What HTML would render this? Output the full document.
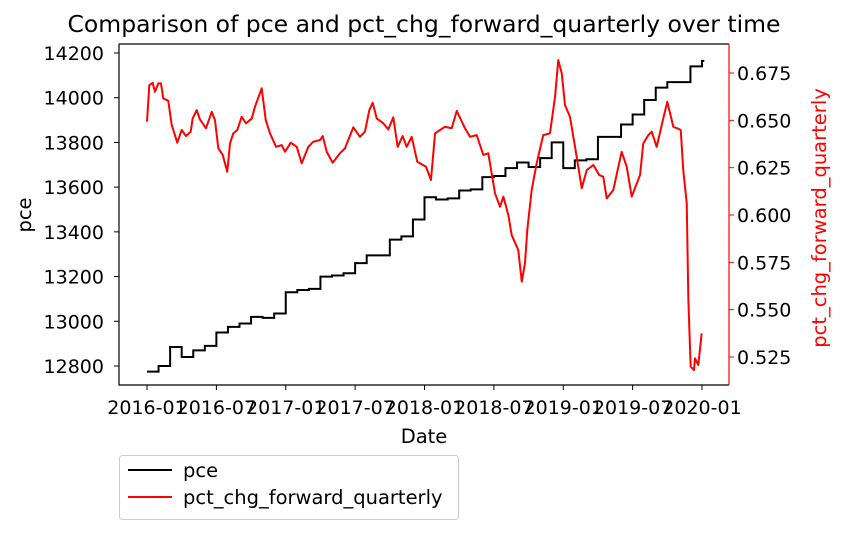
<!DOCTYPE html>
<html><head><meta charset="utf-8"><style>
body{margin:0;background:#fff;}
svg{display:block;font-family:"DejaVu Sans","Liberation Sans",sans-serif;}
</style></head><body>
<svg id="chart" width="842" height="534" xmlns="http://www.w3.org/2000/svg">
<text x="424" y="32" font-size="23.5" text-anchor="middle">Comparison of pce and pct_chg_forward_quarterly over time</text>
<g id="plot"></g>
<text x="424" y="443" font-size="19.5" text-anchor="middle">Date</text>
<text transform="translate(31,215) rotate(-90)" font-size="19.5" text-anchor="middle">pce</text>
<text transform="translate(826,218) rotate(-90)" font-size="19.5" fill="red" text-anchor="middle">pct_chg_forward_quarterly</text>
<g>
<rect x="119.5" y="455.5" width="339" height="64" rx="3" fill="#fff" stroke="#ccc"/>
<line x1="128" y1="470" x2="172" y2="470" stroke="#000" stroke-width="2"/>
<text x="183" y="477" font-size="19.5">pce</text>
<line x1="128" y1="497" x2="172" y2="497" stroke="red" stroke-width="2"/>
<text x="183" y="504" font-size="19.5">pct_chg_forward_quarterly</text>
</g>
</svg>
<script>
// months since 2016-01
const pceMonths=[0,1,2,3,4,5,6,7,8,9,10,11,12,13,14,15,16,17,18,19,20,21,22,23,24,25,26,27,28,29,30,31,32,33,34,35,36,37,38,39,40,41,42,43,44,45,46,47,48];
const pceValues=[12775,12800,12885,12840,12870,12890,12950,12975,12990,13020,13015,13035,13130,13140,13145,13200,13205,13215,13260,13295,13295,13365,13380,13455,13555,13545,13550,13585,13590,13645,13650,13685,13710,13690,13730,13800,13685,13720,13725,13825,13825,13880,13925,13990,14045,14070,14070,14140,14165];
const pctMonths=[0,0.2,0.49,0.69,0.98,1.21,1.41,1.84,2.14,2.62,3.0,3.37,3.78,3.95,4.3,4.58,5.1,5.6,5.88,6.17,6.55,6.94,7.18,7.46,7.81,8.19,8.56,9.06,9.34,9.92,10.27,10.64,11.16,11.65,11.94,12.43,12.95,13.38,13.95,14.38,14.96,15.2,15.54,16.06,16.69,17.12,17.84,18.42,18.85,19.23,19.52,19.87,20.44,20.87,21.3,21.68,22.11,22.46,22.89,23.38,24.13,24.56,24.91,25.34,25.77,26.35,26.79,27.5,27.94,28.51,29.09,29.52,30.1,30.53,30.82,31.25,31.54,32.11,32.41,32.69,32.89,33.27,33.7,34.27,34.85,35.29,35.57,35.87,36.15,36.58,37.02,37.6,38.03,38.6,39.12,39.46,39.76,40.33,41.05,41.49,41.92,42.64,42.92,43.36,43.65,44.08,44.65,45.0,45.52,45.86,46.16,46.38,46.68,46.82,47.02,47.31,47.39,47.68,47.97];
const pctValues=[0.6493,0.6686,0.6698,0.6651,0.6695,0.6695,0.6616,0.6603,0.6475,0.6382,0.6449,0.6417,0.644,0.651,0.6554,0.6505,0.6458,0.6545,0.6501,0.6352,0.6317,0.6228,0.6378,0.6431,0.6449,0.6519,0.6484,0.651,0.6572,0.6669,0.6501,0.6431,0.636,0.6369,0.6334,0.6382,0.636,0.6273,0.636,0.6387,0.6396,0.6417,0.6334,0.6276,0.6326,0.6352,0.6463,0.6413,0.644,0.6554,0.6593,0.651,0.6484,0.6452,0.6516,0.636,0.6417,0.636,0.6413,0.6281,0.6255,0.6185,0.6431,0.6449,0.6466,0.6458,0.655,0.6458,0.6413,0.6422,0.6317,0.6326,0.6114,0.6044,0.6097,0.6,0.5894,0.5815,0.5648,0.5745,0.5921,0.6132,0.6273,0.6422,0.6431,0.6624,0.6818,0.6748,0.6581,0.6519,0.636,0.6141,0.6237,0.6264,0.6211,0.6202,0.6088,0.6132,0.6334,0.6255,0.6097,0.6211,0.6378,0.6422,0.644,0.636,0.651,0.6598,0.6466,0.6458,0.6449,0.6237,0.6062,0.5551,0.5199,0.5181,0.5243,0.5208,0.5375];
const xTickMonths=[0,6,12,18,24,30,36,42,48];
const xTickLabels=["2016-01","2016-07","2017-01","2017-07","2018-01","2018-07","2019-01","2019-07","2020-01"];
const leftTicks=[12800,13000,13200,13400,13600,13800,14000,14200];
const rightTicks=[0.525,0.55,0.575,0.6,0.625,0.65,0.675];

const L=119,R=729,T=44,B=385;
const xs=m=>147+m*(702-147)/48;
const yl=v=>366-(v-12800)*(366-53)/1400;
const yr=v=>357-(v-0.525)*(357-73)/0.15;
const NS="http://www.w3.org/2000/svg";
const g=document.getElementById('plot');
function mk(tag,attrs){const e=document.createElementNS(NS,tag);for(const k in attrs)e.setAttribute(k,attrs[k]);g.appendChild(e);return e;}

let d="";
for(let i=0;i<pceMonths.length;i++){
  const x=xs(pceMonths[i]),y=yl(pceValues[i]);
  if(i===0)d+="M"+x+","+y;else d+="H"+x+"V"+y;
}
d+="H"+xs(48.2);
const p1=mk('path',{d:d,fill:'none',stroke:'#000','stroke-width':2});



let d2="";
for(let i=0;i<pctMonths.length;i++){d2+=(i?"L":"M")+xs(pctMonths[i])+","+yr(pctValues[i]);}
const p2=mk('path',{d:d2,fill:'none',stroke:'red','stroke-width':2,'stroke-linejoin':'round'});



const fr=mk('path',{d:`M${L},${T}V${B}H${R}M${L},${T}H${R}`,fill:'none',stroke:'#000','stroke-width':1.2});


const rs=mk('line',{x1:R,y1:T,x2:R,y2:B,stroke:'red','stroke-width':1.2});



xTickMonths.forEach((m,i)=>{
  const x=xs(m);
  const t=mk('line',{x1:x,y1:B,x2:x,y2:B+5,stroke:'#000'});
  
  
  const tx=mk('text',{x:x,y:B+29,'font-size':19,'text-anchor':'middle'});
  tx.textContent=xTickLabels[i];
  
  
});
leftTicks.forEach(v=>{
  const y=yl(v);
  const t=mk('line',{x1:L-5,y1:y,x2:L,y2:y,stroke:'#000'});
  
  
  const tx=mk('text',{x:L-15,y:y+7,'font-size':19,'text-anchor':'end'});
  tx.textContent=v;
  
  
});
rightTicks.forEach(v=>{
  const y=yr(v);
  const t=mk('line',{x1:R,y1:y,x2:R+5,y2:y,stroke:'red'});
  
  
  const tx=mk('text',{x:R+8,y:y+7,'font-size':19,'text-anchor':'start'});
  tx.textContent=v.toFixed(3);
  
  
});
</script>
</body></html>
